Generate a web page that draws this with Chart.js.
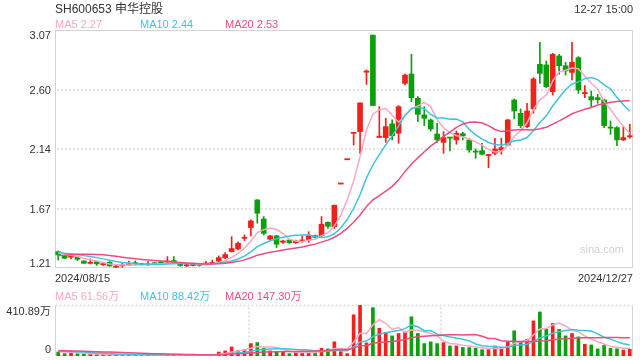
<!DOCTYPE html>
<html><head><meta charset="utf-8">
<script src="https://cdn.jsdelivr.net/npm/chart.js@4.4.1/dist/chart.umd.min.js"></script>
<style>
html,body{margin:0;padding:0;background:#fff;width:640px;height:360px;overflow:hidden;}
#wrap{position:relative;width:640px;height:360px;font-family:Arial,"Liberation Sans","Noto Sans CJK SC",sans-serif;}
canvas{position:absolute;left:0;}
.t{position:absolute;white-space:nowrap;}
</style></head><body>
<div id="wrap">
<canvas id="pc" width="640" height="290" style="top:0;width:640px;height:290px"></canvas>
<canvas id="vc" width="640" height="70" style="top:290px;width:640px;height:70px"></canvas>
</div>
<script>
// ---------------- DATA ----------------
const titleText = 'SH600653 申华控股';
const timeText = '12-27 15:00';
const watermark = 'sina.com';
const priceLegend = ['MA5 2.27', 'MA10 2.44', 'MA20 2.53'];
const volLegend = ['MA5 61.56万', 'MA10 88.42万', 'MA20 147.30万'];
const priceTicks = [1.21, 1.67, 2.14, 2.60, 3.07];
const priceTickLabels = ['1.21', '1.67', '2.14', '2.60', '3.07'];
const volTicks = [0, 410.89];
const volTickLabels = ['0', '410.89万'];

const dates = [
 '2024/08/15','2024/08/16','2024/08/19','2024/08/20','2024/08/21','2024/08/22','2024/08/23','2024/08/26','2024/08/27','2024/08/28','2024/08/29','2024/08/30',
 '2024/09/02','2024/09/03','2024/09/04','2024/09/05','2024/09/06','2024/09/09','2024/09/10','2024/09/11','2024/09/12','2024/09/13','2024/09/18','2024/09/19','2024/09/20','2024/09/23','2024/09/24','2024/09/25','2024/09/26','2024/09/27','2024/09/30',
 '2024/10/08','2024/10/09','2024/10/10','2024/10/11','2024/10/14','2024/10/15','2024/10/16','2024/10/17','2024/10/18','2024/10/21','2024/10/22','2024/10/23','2024/10/24','2024/10/25','2024/10/28','2024/10/29','2024/10/30','2024/10/31',
 '2024/11/01','2024/11/04','2024/11/05','2024/11/06','2024/11/07','2024/11/08','2024/11/11','2024/11/12','2024/11/13','2024/11/14','2024/11/15','2024/11/18','2024/11/19','2024/11/20','2024/11/21','2024/11/22','2024/11/25','2024/11/26','2024/11/27','2024/11/28','2024/11/29',
 '2024/12/02','2024/12/03','2024/12/04','2024/12/05','2024/12/06','2024/12/09','2024/12/10','2024/12/11','2024/12/12','2024/12/13','2024/12/16','2024/12/17','2024/12/18','2024/12/19','2024/12/20','2024/12/23','2024/12/24','2024/12/25','2024/12/26','2024/12/27'
];
const opens = [
 1.338,1.304,1.294,1.296,1.265,1.249,1.260,1.237,1.255,1.219,1.229,1.234,
 1.250,1.242,1.237,1.250,1.255,1.255,1.268,1.237,1.229,1.231,1.239,1.242,1.247,1.263,1.289,1.338,1.359,1.442,1.526,
 1.742,1.593,1.435,1.461,1.411,1.429,1.408,1.421,1.429,1.463,1.463,1.567,1.533,1.87,2.06,2.263,2.276,2.74,
 3.03,2.23,2.229,2.336,2.263,2.653,2.726,2.536,2.406,2.367,2.257,2.192,2.232,2.211,2.260,2.211,2.122,2.127,2.091,2.106,2.132,
 2.171,2.523,2.419,2.315,2.453,2.802,2.797,2.588,2.867,2.791,2.739,2.854,2.575,2.549,2.541,2.523,2.309,2.307,2.211,2.237
];
const highs = [
 1.343,1.306,1.306,1.298,1.267,1.281,1.262,1.255,1.260,1.234,1.247,1.265,
 1.265,1.247,1.260,1.255,1.265,1.299,1.299,1.247,1.242,1.242,1.247,1.263,1.273,1.304,1.330,1.455,1.414,1.468,1.586,
 1.745,1.612,1.466,1.466,1.429,1.432,1.429,1.463,1.494,1.468,1.612,1.570,1.703,1.87,2.06,2.27,2.50,2.757,
 3.03,2.471,2.380,2.367,2.479,2.726,2.880,2.549,2.471,2.375,2.341,2.276,2.232,2.281,2.271,2.224,2.140,2.184,2.099,2.224,2.224,
 2.372,2.531,2.453,2.497,2.698,2.974,2.828,2.888,2.880,2.817,2.974,2.862,2.635,2.593,2.567,2.531,2.359,2.315,2.315,2.333
];
const lows = [
 1.273,1.284,1.281,1.268,1.245,1.242,1.231,1.231,1.224,1.211,1.216,1.231,
 1.239,1.234,1.231,1.240,1.247,1.247,1.247,1.224,1.221,1.226,1.224,1.234,1.244,1.257,1.283,1.335,1.351,1.424,1.460,
 1.560,1.468,1.430,1.370,1.403,1.401,1.403,1.411,1.411,1.445,1.455,1.520,1.520,1.87,2.06,2.171,2.106,2.645,
 2.48,2.23,2.192,2.211,2.185,2.640,2.510,2.354,2.323,2.281,2.192,2.106,2.125,2.177,2.211,2.114,2.067,2.093,1.994,2.093,2.099,
 2.166,2.375,2.307,2.307,2.419,2.653,2.619,2.562,2.724,2.718,2.679,2.575,2.541,2.463,2.497,2.307,2.255,2.166,2.206,2.224
];
const closes = [
 1.312,1.286,1.304,1.278,1.247,1.252,1.242,1.242,1.226,1.222,1.234,1.242,
 1.244,1.237,1.242,1.244,1.250,1.265,1.255,1.231,1.234,1.237,1.231,1.247,1.252,1.291,1.315,1.362,1.403,1.450,1.578,
 1.638,1.481,1.461,1.396,1.421,1.408,1.421,1.429,1.461,1.450,1.552,1.536,1.70,1.87,2.06,2.27,2.50,2.75,
 2.48,2.24,2.315,2.244,2.471,2.718,2.541,2.411,2.380,2.297,2.211,2.229,2.226,2.263,2.242,2.132,2.117,2.099,2.094,2.140,2.151,
 2.367,2.437,2.323,2.437,2.687,2.731,2.627,2.880,2.791,2.750,2.817,2.601,2.580,2.523,2.526,2.323,2.305,2.211,2.229,2.242
];
// volumes in 万
const volumes = [
 32,19,27,19,16,14,11,11,12,10,10,10,
 9,8,9,9,10,14,14,8,7,7,8,9,10,32,41,73,46,51,100,
 108,62,41,35,35,19,27,30,32,35,62,57,114,35,19,332,410.89,105,
 389,224,189,162,181,195,316,181,100,114,100,108,81,81,68,68,62,51,51,81,62,
 116,203,116,135,283,355,216,262,214,162,181,154,95,89,57,85,62,58,48,55
];
// closes / volumes of the 19 sessions before the first shown day (estimated from the MA lines)
const priorCloses = [1.24,1.23,1.22,1.23,1.25,1.27,1.30,1.33,1.36,1.38,1.37,1.35,1.34,1.33,1.32,1.33,1.34,1.33,1.32];
const priorVolumes = [38,42,35,50,60,45,40,38,44,52,48,41,39,45,50,42,36,40,34];

// ---------------- STYLE ----------------
const UP = '#f0211b', DOWN = '#0b9f0b';
const MA_COLORS = ['#f7a8c3', '#3dc4df', '#ec4c7e'];
const MA_N = [5, 10, 20];

function movingAvg(series, prior, n) {
  const all = prior.concat(series);
  return series.map((_, i) => {
    let s = 0;
    for (let k = 0; k < n; k++) s += all[prior.length + i - k];
    return s / n;
  });
}
const colors = closes.map((c, i) => c >= opens[i] ? UP : DOWN);
const MINB = 0.009;
const bodies = opens.map((o, i) => {
  let lo = Math.min(o, closes[i]), hi = Math.max(o, closes[i]);
  if (hi - lo < MINB) { const m = (lo + hi) / 2; lo = m - MINB / 2; hi = m + MINB / 2; }
  return [lo, hi];
});
const wicks = lows.map((l, i) => [l, highs[i]]);

const wrap = document.getElementById('wrap');
function addText(txt, x, y, size, color, align) {
  const d = document.createElement('div');
  d.className = 't';
  d.textContent = txt;
  d.style.fontSize = size + 'px';
  d.style.lineHeight = (size * 2) + 'px';
  d.style.height = (size * 2) + 'px';
  d.style.top = (y - size) + 'px';
  d.style.color = color;
  if (align === 'right') d.style.right = (640 - x) + 'px'; else d.style.left = x + 'px';
  wrap.appendChild(d);
}

function dotted(ctx, x1, y1, x2, y2) {
  ctx.save();
  ctx.strokeStyle = '#e3e3e3';
  ctx.lineWidth = 2;
  ctx.setLineDash([2, 2]);
  ctx.beginPath(); ctx.moveTo(x1, y1); ctx.lineTo(x2, y2); ctx.stroke();
  ctx.restore();
}

const pricePlugin = {
  id: 'priceFrame',
  beforeDatasetsDraw(chart) {
    const { ctx, chartArea: a, scales } = chart;
    priceTicks.slice(1, -1).forEach(v => {
      const y = Math.round(scales.y.getPixelForValue(v));
      dotted(ctx, a.left + 2, y, a.right - 2, y);
    });
    ctx.save();
    ctx.strokeStyle = '#d4d4d4'; ctx.lineWidth = 1;
    ctx.strokeRect(Math.round(a.left) + 0.5, Math.round(a.top) + 0.5, Math.round(a.right - a.left) - 1, Math.round(a.bottom - a.top) - 1);
    ctx.restore();
  }
};
const volPlugin = {
  id: 'volFrame',
  beforeDatasetsDraw(chart) {
    const { ctx, chartArea: a } = chart;
    const L = Math.round(a.left) + 0.5, R = Math.round(a.right) - 0.5, T = Math.round(a.top) + 0.5, B = Math.round(a.bottom) - 0.5;
    dotted(ctx, L, T, R, T);
    [1, 2].forEach(k => {
      const x = Math.round(a.left + (a.right - a.left) * k / 3) + 1;
      dotted(ctx, x, T + 2, x, B);
    });
    ctx.save();
    ctx.strokeStyle = '#d4d4d4'; ctx.lineWidth = 1;
    ctx.beginPath();
    ctx.moveTo(L, T); ctx.lineTo(L, B); ctx.lineTo(R, B); ctx.lineTo(R, T);
    ctx.stroke();
    ctx.restore();
  }
};

const common = {
  responsive: false, animation: false, events: [],
  plugins: { legend: { display: false }, tooltip: { enabled: false } }
};

const priceMA = MA_N.map(n => movingAvg(closes, priorCloses, n));
const priceChart = new Chart(document.getElementById('pc'), {
  type: 'bar',
  data: {
    labels: dates,
    datasets: [
      { type: 'bar', data: wicks, backgroundColor: colors, barThickness: 1, grouped: false, borderWidth: 0, order: 3 },
      { type: 'bar', data: bodies, backgroundColor: colors, barThickness: 5, grouped: false, borderWidth: 0, order: 2 },
      ...priceMA.map((d, k) => ({ type: 'line', data: d, borderColor: MA_COLORS[k], borderWidth: 1.5, pointRadius: 0, fill: false, order: 1 - k * 0.1 }))
    ]
  },
  options: Object.assign({}, common, {
    layout: { padding: { left: 55, right: 7, top: 30, bottom: 22 } },
    scales: { x: { display: false, offset: true }, y: { display: false, min: priceTicks[0], max: priceTicks[priceTicks.length - 1] } }
  }),
  plugins: [pricePlugin]
});

const volMA = MA_N.map(n => movingAvg(volumes, priorVolumes, n));
const volChart = new Chart(document.getElementById('vc'), {
  type: 'bar',
  data: {
    labels: dates,
    datasets: [
      { type: 'bar', data: volumes, backgroundColor: colors, barThickness: 3, grouped: false, borderWidth: 0, order: 2 },
      ...volMA.map((d, k) => ({ type: 'line', data: d, borderColor: MA_COLORS[k], borderWidth: 1.5, pointRadius: 0, fill: false, order: 1 - k * 0.1 }))
    ]
  },
  options: Object.assign({}, common, {
    layout: { padding: { left: 55, right: 7, top: 15, bottom: 4 } },
    scales: { x: { display: false, offset: true }, y: { display: false, min: volTicks[0], max: volTicks[volTicks.length - 1] } }
  }),
  plugins: [volPlugin]
});

// ---------------- TEXT ----------------
const pa = priceChart.chartArea, va = volChart.chartArea;
const textColor = '#333';
addText(titleText, pa.left, 9, 12, textColor, 'left');
addText(timeText, pa.right, 9, 11, textColor, 'right');
const legendX = [pa.left, pa.left + 85, pa.left + 170];
priceLegend.forEach((t, k) => addText(t, legendX[k], 24, 11, MA_COLORS[k], 'left'));
priceTicks.forEach((v, k) => {
  let y = priceChart.scales.y.getPixelForValue(v);
  y = Math.min(Math.max(y, pa.top + 5), pa.bottom - 5);
  addText(priceTickLabels[k], pa.left - 4, y, 11, textColor, 'right');
});
addText(dates[0], pa.left, 278, 11, textColor, 'left');
addText(dates[dates.length - 1], pa.right, 278, 11, textColor, 'right');
addText(watermark, pa.right - 9, 249, 11, '#d2d2d2', 'right');
volLegend.forEach((t, k) => addText(t, legendX[k], 296, 11, MA_COLORS[k], 'left'));
volTicks.forEach((v, k) => {
  let y = 290 + volChart.scales.y.getPixelForValue(v);
  y = Math.min(Math.max(y, 290 + va.top + 6), 290 + va.bottom - 7);
  addText(volTickLabels[k], pa.left - 4, y, 11, textColor, 'right');
});
</script>
</body></html>
